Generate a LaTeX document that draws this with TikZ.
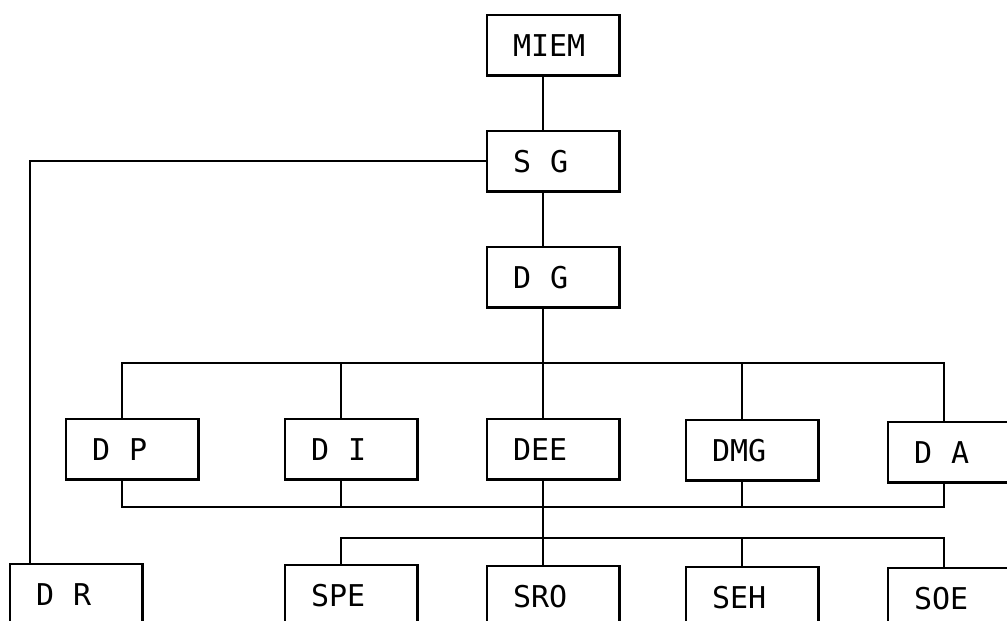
\documentclass[tikz,border=0pt]{standalone}
\usepackage{fontspec}
\newfontfamily\boxfont{DejaVu Sans Mono}
\newcommand{\boxtype}{\boxfont\fontsize{30}{30}\selectfont}
\newcommand{\boxspace}{\spaceskip 19pt\relax}
\tikzstyle{unit} = [
    rectangle,
    minimum width=132pt,
    minimum height=60pt,
    text width=80pt,
    inner xsep=26pt,
    inner ysep=0pt,
    text height=22pt,
    text depth=0pt,
    align=left,
    font=\boxtype,
    execute at begin node=\boxspace,
    draw=black,
    line width=1.3pt
]
\tikzstyle{link} = [line width=1.4pt]
\tikzstyle{heavy} = [line width=2.8pt]

\begin{document}
\begin{tikzpicture}[x=1pt, y=-1pt, node distance=116pt]
\useasboundingbox (0,0) rectangle (1007,621);
\clip (0,0) rectangle (1007,621);

\node (miem) [unit] at (553,45) {MIEM};
\node (sg) [unit, below of=miem] {S G};
\node (dg) [unit, below of=sg] {D G};

\node (dp) [unit] at (132,449) {D P};
\node (di) [unit] at (351,449) {D I};
\node (dee) [unit] at (553,449) {DEE};
\node (dmg) [unit] at (752,450) {DMG};
\node (da) [unit] at (954,452) {D A};

\node (dr) [unit] at (76,594) {D R};
\node (spe) [unit] at (351,595) {SPE};
\node (sro) [unit] at (553,596) {SRO};
\node (seh) [unit] at (752,597) {SEH};
\node (soe) [unit] at (954,598) {SOE};

% bus levels
\coordinate (bustop) at (0,363);
\coordinate (busmid) at (0,507);
\coordinate (buslow) at (0,538);

% lines meet the boxes a little left of centre
\foreach \n in {miem,sg,dg,dp,di,dee,dmg,da,spe,sro,seh,soe} {
    \coordinate (t\n) at ([xshift=-10]\n.north);
    \coordinate (b\n) at ([xshift=-10]\n.south);
}
\coordinate (tdr) at ([xshift=-46]dr.north);

\draw [link] (bmiem) -- (tsg);
\draw [link] (bsg) -- (tdg);
\draw [link] (sg.west) -| (tdr);
\draw [link] (bdg) -- (tdee);
\draw [link] (tdp) |- (bustop -| tda) -- (tda);
\draw [link] (bdp) |- (busmid -| bda) -- (bda);
\foreach \n in {di,dmg} {
    \draw [link] (t\n) -- (t\n |- bustop);
    \draw [link] (b\n) -- (b\n |- busmid);
}
\draw [link] (bdee) -- (tsro);
\draw [link] (tspe) |- (buslow -| tsoe) -- (tsoe);
\draw [link] (tseh) -- (tseh |- buslow);

% heavier right and bottom edges
\foreach \n in {miem,sg,dg,dp,di,dee,dmg,da,dr,spe,sro,seh,soe}
    \draw [heavy] (\n.north east) -- (\n.south east) -- (\n.south west);

\end{tikzpicture}
\end{document}
